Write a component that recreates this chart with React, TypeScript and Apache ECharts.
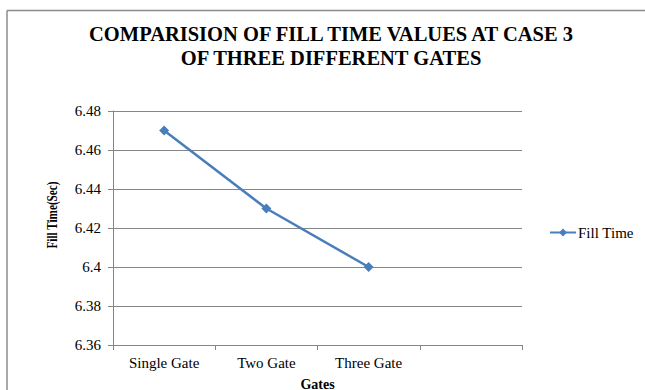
import React, { useEffect, useRef } from "react";
import * as echarts from "echarts";

const gates = ["Single Gate", "Two Gate", "Three Gate", ""];
const fillTime = [6.47, 6.43, 6.4];
const yMin = 6.36;
const yMax = 6.48;
const yStep = 0.02;

const serif = "Times New Roman, Liberation Serif, serif";

export default function App() {
  const ref = useRef<HTMLDivElement>(null);

  useEffect(() => {
    if (!ref.current) return;
    const chart = echarts.init(ref.current, undefined, { renderer: "svg" });
    const frame = { stroke: "#8c8c8c", lineWidth: 1.5 };
    chart.setOption({
      animation: false,
      backgroundColor: "#ffffff",
      textStyle: { fontFamily: serif },
      title: {
        text: "COMPARISION OF FILL TIME VALUES AT CASE 3\nOF THREE DIFFERENT GATES",
        left: 326,
        textAlign: "center",
        top: 17,
        textStyle: {
          fontFamily: serif,
          fontWeight: "bold",
          fontSize: 20.5,
          lineHeight: 24,
          color: "#000000",
        },
      },
      graphic: [
        { type: "line", shape: { x1: 7, y1: 10.5, x2: 645, y2: 10.5 }, style: frame, silent: true },
        { type: "line", shape: { x1: 7, y1: 10.5, x2: 7, y2: 390 }, style: frame, silent: true },
        {
          // y-axis title, drawn narrow along its reading direction
          type: "text",
          x: 53,
          y: 215,
          rotation: Math.PI / 2,
          scaleX: 0.8,
          style: {
            text: "Fill Time(Sec)",
            font: `bold 14px ${serif}`,
            fill: "#000000",
            align: "center",
            verticalAlign: "middle",
          },
          silent: true,
        },
      ],
      legend: {
        left: 549,
        top: 225,
        padding: 0,
        itemWidth: 26,
        itemHeight: 10,
        itemGap: 4,
        textStyle: { fontFamily: serif, fontSize: 15, color: "#000000", padding: [0, 0, 0, -3] },
        data: ["Fill Time"],
      },
      grid: { left: 113, top: 111, width: 409, height: 234, outerBoundsMode: "none", containLabel: false },
      xAxis: {
        type: "category",
        data: gates,
        boundaryGap: true,
        name: "Gates",
        nameLocation: "middle",
        nameGap: 32,
        nameTextStyle: { fontFamily: serif, fontWeight: "bold", fontSize: 14, color: "#000000" },
        axisLine: { lineStyle: { color: "#868686", width: 1 } },
        axisTick: { show: true, length: 5, lineStyle: { color: "#868686" } },
        axisLabel: { fontFamily: serif, fontSize: 15, color: "#000000", margin: 10 },
        splitLine: { show: false },
      },
      yAxis: {
        type: "value",
        min: yMin,
        max: yMax,
        interval: yStep,
        axisLine: { show: true, lineStyle: { color: "#868686", width: 1 } },
        axisTick: { show: true, length: 5, lineStyle: { color: "#868686" } },
        axisLabel: {
          fontFamily: serif,
          fontSize: 15,
          color: "#000000",
          margin: 12,
          formatter: (v: number) => String(Number(v.toFixed(2))),
        },
        splitLine: { show: true, lineStyle: { color: "#868686", width: 1 } },
      },
      series: [
        {
          name: "Fill Time",
          type: "line",
          data: fillTime,
          symbol: "diamond",
          symbolSize: 10,
          lineStyle: { color: "#4a7ebb", width: 2.5 },
          itemStyle: { color: "#4a7ebb" },
        },
      ],
    });
    return () => chart.dispose();
  }, []);

  return (
    <div
      ref={ref}
      style={{ position: "fixed", left: 0, top: 0, width: 645, height: 390 }}
    />
  );
}
